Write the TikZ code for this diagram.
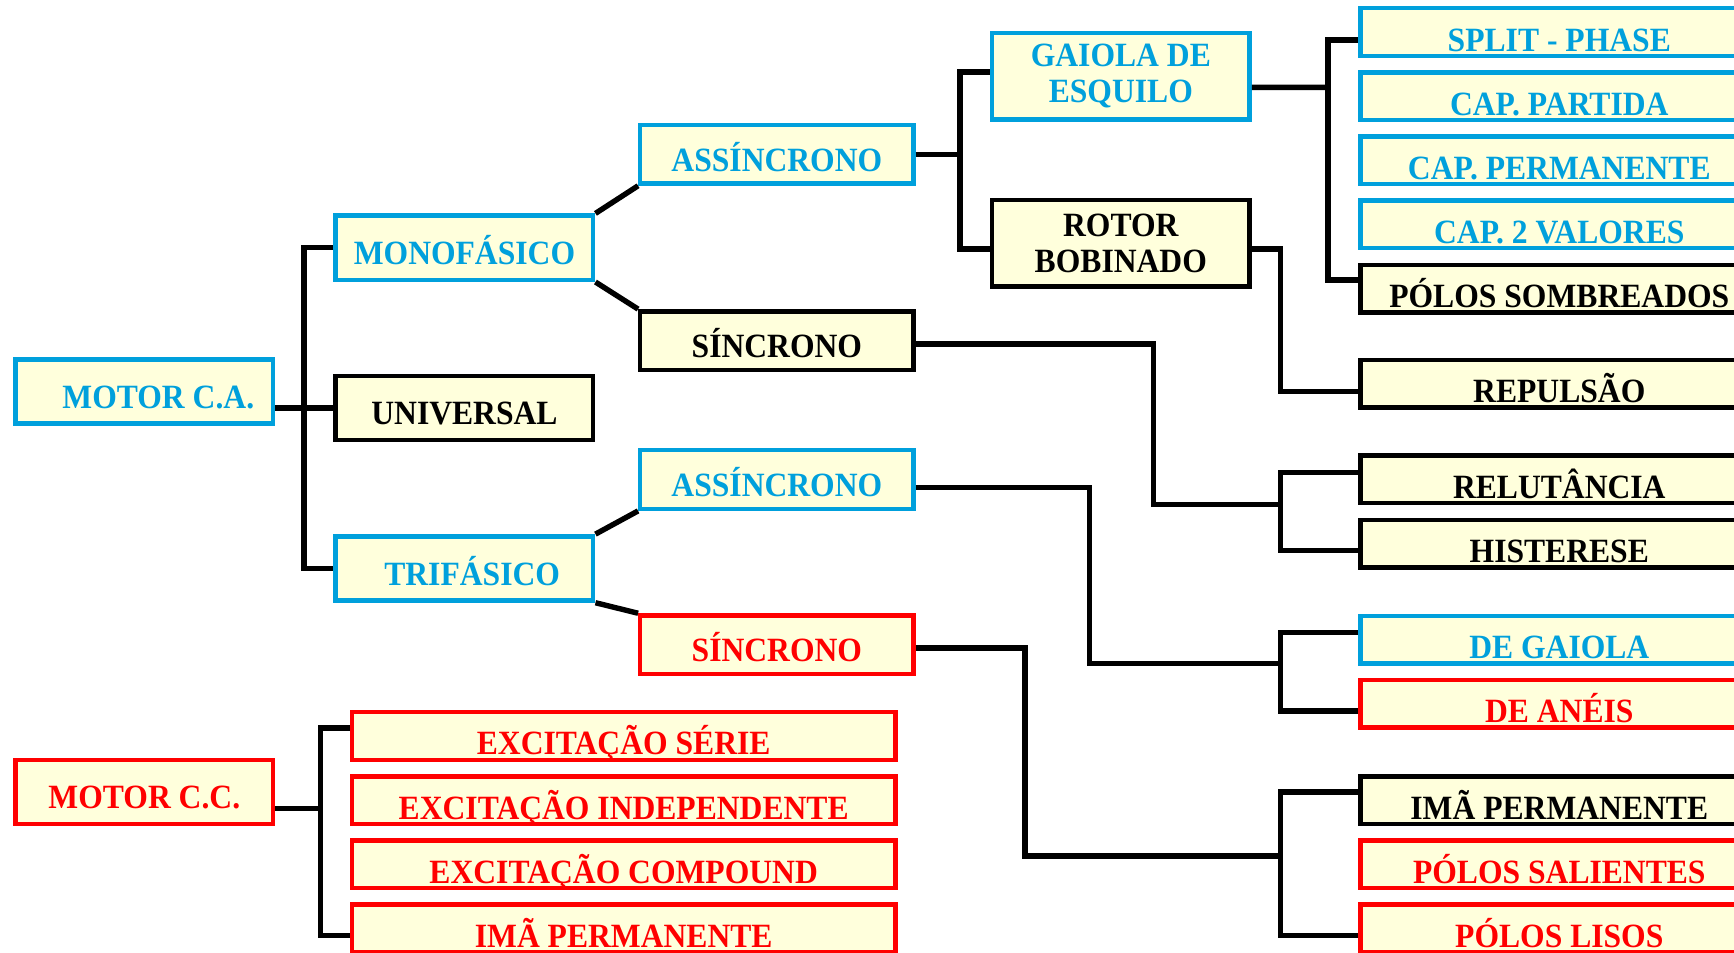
\documentclass[tikz,border=0pt]{standalone}
\usepackage{fontspec}
\setmainfont{Liberation Serif}[FakeStretch=0.93]
\usetikzlibrary{calc}
\definecolor{skyline}{HTML}{00A0DC}
\definecolor{redline}{HTML}{FF0000}
\definecolor{boxbg}{HTML}{FFFFDC}
\newcommand{\boxfont}{\fontsize{17}{18}\selectfont\bfseries}
\tikzset{
  box/.style={draw,fill=boxbg,line width=2.2pt,inner sep=0pt,font=\boxfont},
  blu/.style={box,draw=skyline,text=skyline},
  blk/.style={box,draw=black,text=black},
  rd/.style={box,draw=redline,text=redline},
  wide/.style={minimum width=128.8pt,minimum height=32.1pt,
               text height=16.8pt,text depth=0pt},
  mid/.style={minimum width=136.6pt,minimum height=29.3pt,
              text height=16.8pt,text depth=0pt},
  tall/.style={minimum width=128.8pt,minimum height=43.1pt,align=center},
  long/.style={minimum width=199pt,minimum height=23.8pt,
               text height=19pt,text depth=0pt},
  bar/.style={minimum width=272pt,minimum height=23.8pt,
              text height=19pt,text depth=0pt},
  wire/.style={line width=2.7pt},
}

\begin{document}
\begin{tikzpicture}[x=0.553pt,y=-0.553pt]
  \clip (0,0) rectangle (1568,861);
  % left column
  \node[blu,wide] (mca) at (130.5,354) {\hspace*{14pt}MOTOR C.A.};
  \node[rd,wide]  (mcc) at (130.5,716) {MOTOR C.C.};
  % phases
  \node[blu,wide] (mono) at (420,224) {MONOFÁSICO};
  \node[blk,wide] (univ) at (420,369) {UNIVERSAL};
  \node[blu,wide] (trif) at (420,514) {\hspace*{7.7pt}TRIFÁSICO};
  % synchronous / asynchronous
  \node[blu,mid] (as1) at (702.5,139.5) {ASSÍNCRONO};
  \node[blk,mid] (si1) at (702.5,308)   {SÍNCRONO};
  \node[blu,mid] (as2) at (702.5,433.5) {ASSÍNCRONO};
  \node[rd,mid]  (si2) at (702.5,583)   {SÍNCRONO};
  % rotor types
  \node[blu,tall] (gai) at (1013.5,69) {GAIOLA DE\\ ESQUILO};
  \node[blk,tall] (rot) at (1013.5,220) {ROTOR\\ BOBINADO};
  % d.c. excitation
  \foreach \nm/\yy/\txt in {eser/665.5/{EXCITAÇÃO SÉRIE},
      eind/723.5/{EXCITAÇÃO INDEPENDENTE},
      ecomp/781.5/{EXCITAÇÃO COMPOUND},
      eima/839.5/{IMÃ PERMANENTE}}{%
    \node[rd,bar] (\nm) at (564,\yy) {\txt};
  }
  % right column
  \foreach \nm/\yy/\sty/\txt in {split/29/blu/{SPLIT - PHASE},
      cpart/87/blu/{CAP. PARTIDA},
      cperm/145/blu/{CAP. PERMANENTE},
      cdois/203/blu/{CAP. 2 VALORES},
      psomb/261/blk/{PÓLOS SOMBREADOS},
      repul/347/blk/{REPULSÃO},
      relut/433.5/blk/{RELUTÂNCIA},
      hist/491.5/blk/{HISTERESE},
      dgai/578.5/blu/{DE GAIOLA},
      dane/636.5/rd/{DE ANÉIS},
      ima/723.5/blk/{IMÃ PERMANENTE},
      psal/781.5/rd/{PÓLOS SALIENTES},
      plis/839.5/rd/{PÓLOS LISOS}}{%
    \node[\sty,long] (\nm) at (1410,\yy) {\txt};
  }
  % bends of the wires
  \coordinate (ka) at (275,369);
  \coordinate (kc) at (290,731);
  \coordinate (kg) at (868,139.5);
  \coordinate (ks) at (1201,79);
  \coordinate (kr) at (1158,290);
  \coordinate (k1) at (1043,456);
  \coordinate (kh) at (1158,456);
  \coordinate (k2) at (985,600);
  \coordinate (kd) at (1158,600);
  \coordinate (k3) at (927,774);
  \coordinate (ki) at (1158,774);
  % wires
  \draw[wire] (mca.east |- univ.west) -- (univ.west);
  \draw[wire] (mono.west) -| (ka) |- (trif.west);
  \draw[wire] (mcc.east |- kc) -- (kc);
  \draw[wire] ([yshift=4pt]eser.west) -| (kc) |- ([yshift=-3.6pt]eima.west);
  \draw[wire] (mono.north east) -- (as1.south west);
  \draw[wire] (mono.south east) -- (si1.north west);
  \draw[wire] (trif.north east) -- (as2.south west);
  \draw[wire] (trif.south east) -- (si2.north west);
  \draw[wire] (as1.east) -- (kg);
  \draw[wire] ([yshift=2.2pt]gai.west) -| (kg) |- ([yshift=-2.8pt]rot.west);
  \draw[wire] ([yshift=-5.5pt]gai.east) -- (ks);
  \draw[wire] ([yshift=-3.9pt]split.west) -| (ks) |- ([yshift=4.4pt]psomb.west);
  \draw[wire] ([yshift=-2.8pt]rot.east) -| (kr) |- ([yshift=-3.9pt]repul.west);
  \draw[wire] ([yshift=-1.7pt]si1.east) -| (k1) -- (kh);
  \draw[wire] ([yshift=3.6pt]relut.west) -| (kh) |- ([yshift=-3.6pt]hist.west);
  \draw[wire] ([yshift=-4.1pt]as2.east) -| (k2) -- (kd);
  \draw[wire] ([yshift=3.6pt]dgai.west) -| (kd) |- ([yshift=-3.6pt]dane.west);
  \draw[wire] ([yshift=-1.7pt]si2.east) -| (k3) -- (ki);
  \draw[wire] ([yshift=4.1pt]ima.west) -| (ki) |- ([yshift=-3.6pt]plis.west);
\end{tikzpicture}
\end{document}
